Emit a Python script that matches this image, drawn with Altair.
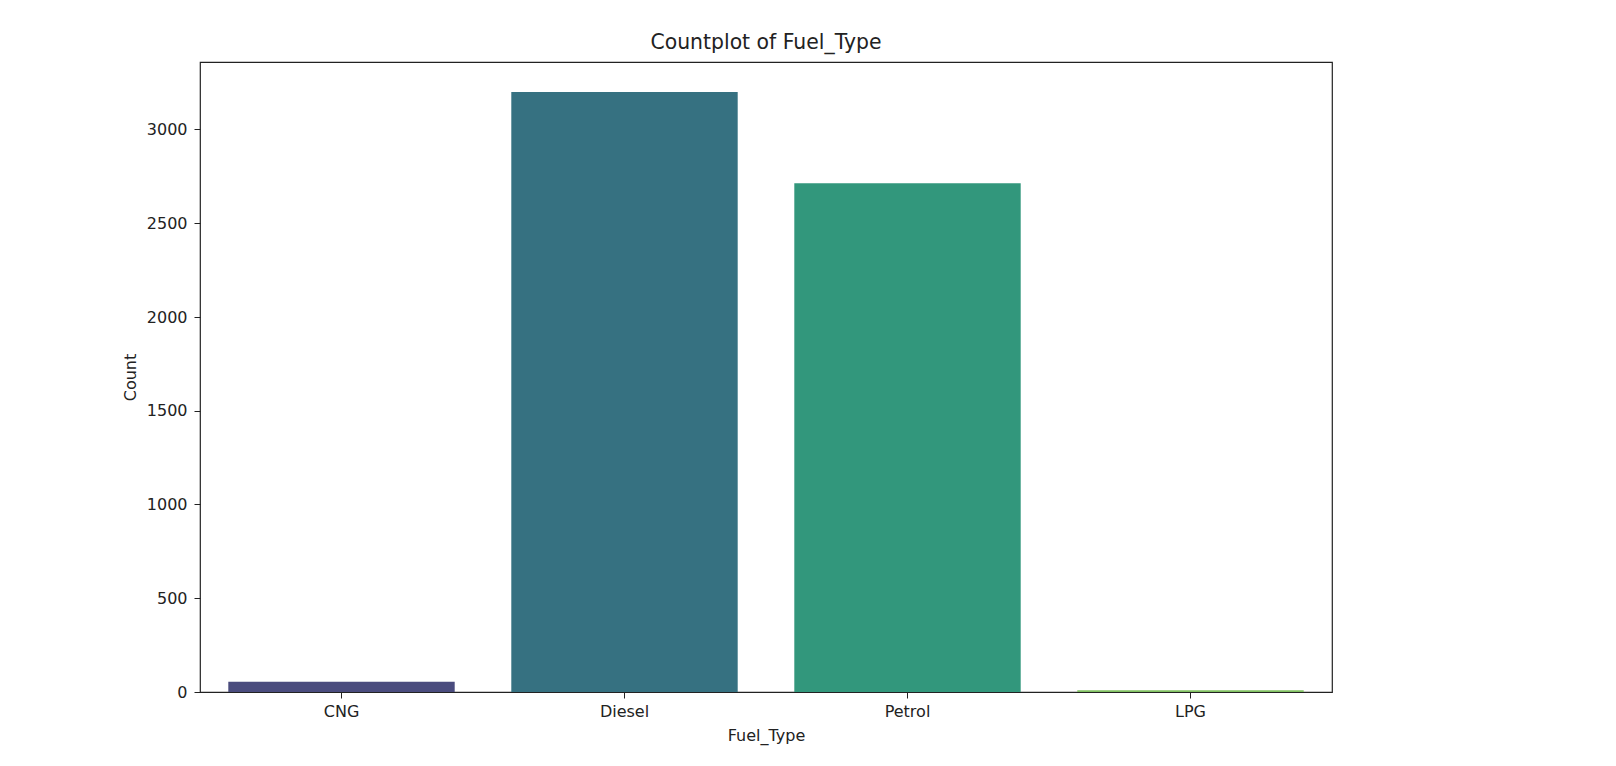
import altair as alt
import pandas as pd

categories = ["CNG", "Diesel", "Petrol", "LPG"]
counts = [55, 3200, 2714, 9]
colors = ["#4a4c7e", "#367181", "#32977c", "#80c161"]

df = pd.DataFrame({"Fuel_Type": categories, "Count": counts})

FONT = "DejaVu Sans"
W, H = 1132, 630
ymax = max(counts) * 1.05

bars = alt.Chart(df).mark_bar().encode(
    x=alt.X(
        "Fuel_Type:N",
        sort=categories,
        scale=alt.Scale(paddingInner=0.2, paddingOuter=0.1),
        axis=alt.Axis(
            title="Fuel_Type",
            labelAngle=0,
            labelFont=FONT,
            labelFontSize=16,
            labelColor="#222222",
            labelPadding=5,
            tickSize=6,
            tickColor="#222222",
            domain=False,
            titleFont=FONT,
            titleFontSize=16,
            titleFontWeight="normal",
            titleColor="#222222",
            titleX=W / 2,
            titleY=43,
            titleAlign="center",
            titleBaseline="middle",
        ),
    ),
    y=alt.Y(
        "Count:Q",
        scale=alt.Scale(domain=[0, ymax], nice=False, zero=True),
        axis=alt.Axis(
            title="Count",
            values=[0, 500, 1000, 1500, 2000, 2500, 3000],
            format="d",
            grid=False,
            labelFont=FONT,
            labelFontSize=16,
            labelColor="#222222",
            labelPadding=7,
            tickSize=6,
            tickColor="#222222",
            domain=False,
            titleFont=FONT,
            titleFontSize=16,
            titleFontWeight="normal",
            titleColor="#222222",
            titleAngle=270,
            titleX=-70,
            titleY=H / 2,
            titleAlign="center",
            titleBaseline="middle",
        ),
    ),
    color=alt.Color(
        "Fuel_Type:N",
        scale=alt.Scale(domain=categories, range=colors),
        legend=None,
    ),
).properties(
    width=W,
    height=H,
    title=alt.TitleParams(
        "Countplot of Fuel_Type",
        font=FONT,
        fontSize=20.4,
        fontWeight="normal",
        color="#222222",
        anchor="middle",
        offset=9,
    ),
)

chart = bars.configure_view(
    stroke="#222222", strokeWidth=1.2
).properties(
    autosize=alt.AutoSizeParams(type="none"),
    padding={"left": 192, "top": 54, "right": 20, "bottom": 60},
    background="white",
)

chart.save("out.html", embed_options={"renderer": "svg", "actions": False})
